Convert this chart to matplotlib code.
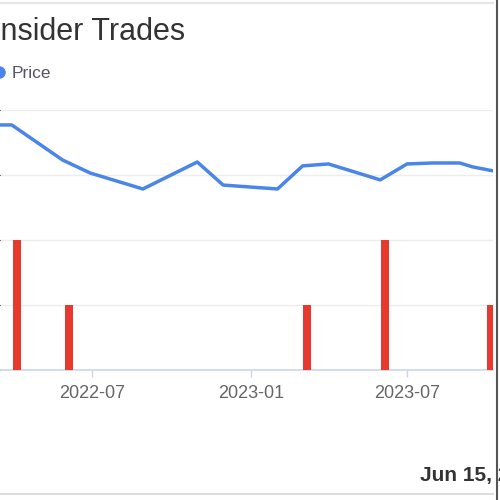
import matplotlib
matplotlib.use("Agg")
import matplotlib.pyplot as plt
import matplotlib.dates as mdates
import numpy as np
from matplotlib.lines import Line2D

plt.rcParams['font.family'] = ['Liberation Sans', 'DejaVu Sans']

# price series
price_dates = ['2022-03-16', '2022-03-30', '2022-05-28', '2022-06-29', '2022-08-29',
               '2022-10-31', '2022-11-30', '2023-02-01', '2023-03-02', '2023-04-01',
               '2023-05-31', '2023-07-01', '2023-07-31', '2023-08-31', '2023-09-15',
               '2023-10-10']
price_values = [75.4, 75.4, 64.6, 60.6, 55.7, 64.0, 56.9, 55.7, 62.8, 63.4,
                58.5, 63.4, 63.7, 63.7, 62.5, 61.2]

# insider trades (count per date)
trade_dates = ['2022-04-05', '2022-06-04', '2023-03-07', '2023-06-05', '2023-10-06']
trade_counts = [2, 1, 1, 2, 1]

tick_dates = ['2022-07-01', '2023-01-01', '2023-07-01']
tick_labels = ['2022-07', '2023-01', '2023-07']

W, H = 500, 500
fig = plt.figure(figsize=(5, 5), dpi=100)

# plot area in pixels
left_px, right_px, top_px, bottom_px = 0, 493, 110, 370
ax = fig.add_axes([left_px / W, 1 - bottom_px / H,
                   (right_px - left_px) / W, (bottom_px - top_px) / H])

px_per_day = 315 / 365.0
x0 = mdates.datestr2num('2022-07-01') - (92 - left_px) / px_per_day
x1 = mdates.datestr2num('2022-07-01') + (right_px - 92) / px_per_day

td = mdates.datestr2num(trade_dates)
ax.bar(td, trade_counts, width=8 / px_per_day, color='#e8392e', zorder=3)
ax.set_xlim(x0, x1)
ax.set_ylim(0, 4)
ax.set_yticks([0, 1, 2, 3, 4])
ax.yaxis.grid(True, color='#ececec', linewidth=1)
ax.tick_params(axis='y', left=False, labelleft=False)
ax.set_axisbelow(True)

ax.set_xticks(mdates.datestr2num(tick_dates))
ax.set_xticklabels(tick_labels)
ax.tick_params(axis='x', colors='#ccd6eb', length=5, width=1, pad=6,
               labelcolor='#666666', labelsize=13)
for s in ['top', 'left', 'right']:
    ax.spines[s].set_visible(False)
ax.spines['bottom'].set_color('#ccd6eb')
ax.spines['bottom'].set_linewidth(1.2)

ax2 = ax.twinx()
ax2.plot(mdates.datestr2num(price_dates), price_values, color='#4a86e8',
         linewidth=2.5, solid_joinstyle='round', zorder=4)
ax2.set_ylim(0, 80)
ax2.set_xlim(x0, x1)
ax2.axis('off')

# title, legend and footer
fig.text(185 / W, 1 - 40 / H, 'Insider Trades', ha='right', va='baseline',
         fontsize=22, color='#333333')
fig.add_artist(Line2D([-1 / W], [1 - 72 / H], marker='o', markersize=8,
                      color='#4a86e8', linestyle='none'))
fig.text(12 / W, 1 - 78 / H, 'Price', ha='left', va='baseline',
         fontsize=12.5, color='#555566')
fig.text(420 / W, 1 - 481 / H, 'Jun 15, 2023', ha='left', va='baseline',
         fontsize=15, fontweight='bold', color='#333333')

# container borders
fig.add_artist(Line2D([0, 493 / W], [1 - 3 / H, 1 - 3 / H], color='#e6e6e6', linewidth=1.5))
fig.add_artist(Line2D([0, 493 / W], [1 - 494 / H, 1 - 494 / H], color='#dddddd', linewidth=1.5))
fig.add_artist(Line2D([496.5 / W, 496.5 / W], [0, 1], color='#555555', linewidth=1.5))

fig.savefig('out.png', dpi=100)
